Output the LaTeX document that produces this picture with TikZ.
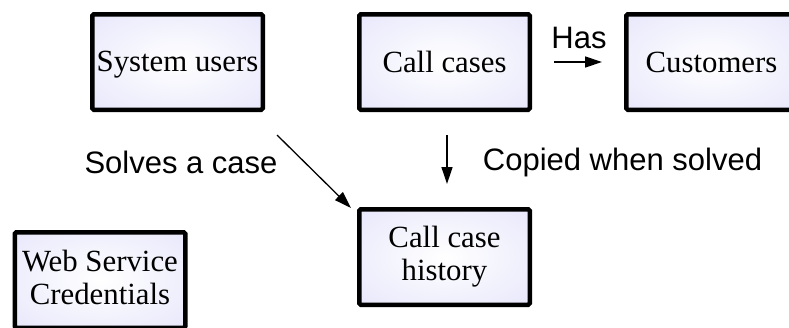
\documentclass[tikz,border=0pt]{standalone}
\usepackage{fontspec}
\setmainfont{Liberation Serif}
\newfontfamily\labelfont{Liberation Sans}
\usetikzlibrary{arrows.meta}

\definecolor{boxedge}{RGB}{222,222,250}
\pgfdeclareradialshading{boxglow}{\pgfpoint{0bp}{0bp}}{%
  color(0bp)=(white); color(50bp)=(boxedge); color(72bp)=(boxedge)}

% fixed line height and depth so every entity label sits on the same baseline
\newcommand\entitytop{\rule{0pt}{25pt}}
\newcommand\entitybottom{\rule[-5pt]{0pt}{5pt}}

\tikzset{
  entity/.style={draw=black, line width=4.5pt, rounded corners=1.5pt,
    shading=boxglow, minimum width=170.5pt, minimum height=95.5pt,
    inner sep=0pt, align=center, font=\fontsize{30.8}{33}\selectfont,
    execute at begin node=\entitytop, execute at end node=\entitybottom},
  rel/.style={font=\labelfont\fontsize{31}{34}\selectfont, inner sep=0pt, anchor=base},
  link/.style={line width=1.3pt, -{Triangle[length=17pt,width=11pt]}}
}

\begin{document}
\begin{tikzpicture}[x=1pt,y=-1pt]
  \useasboundingbox (0,0) rectangle (789,327);
  \clip (0,0) rectangle (789,327);

  % entities
  \node[entity] (users)    at (177.5,62)  {System users};
  \node[entity] (cases)    at (444.5,62)  {Call cases};
  \node[entity] (cust)     at (711.5,62)  {Customers};
  \node[entity] (history)  at (444.5,257) {Call case\\history};
  \node[entity] (creds)    at (100,280)   {Web Service\\Credentials};

  % relation labels
  \node[rel] (haslbl)    at (579,48)    {Has};
  \node[rel] (solveslbl) at (181,173)   {Solves a case};
  \node[rel] (copylbl)   at (622.5,170) {Copied when solved};

  % free-standing relation arrows
  \coordinate (hasA)  at (554,62);
  \coordinate (hasB)  at (602,62);
  \coordinate (cpyA)  at (447,135);
  \coordinate (cpyB)  at (447,184);
  \coordinate (solA)  at (277,135);
  \coordinate (solB)  at (351,208);

  \draw[link] (hasA) -- (hasB);
  \draw[link] (cpyA) -- (cpyB);
  \draw[link] (solA) -- (solB);
\end{tikzpicture}
\end{document}
